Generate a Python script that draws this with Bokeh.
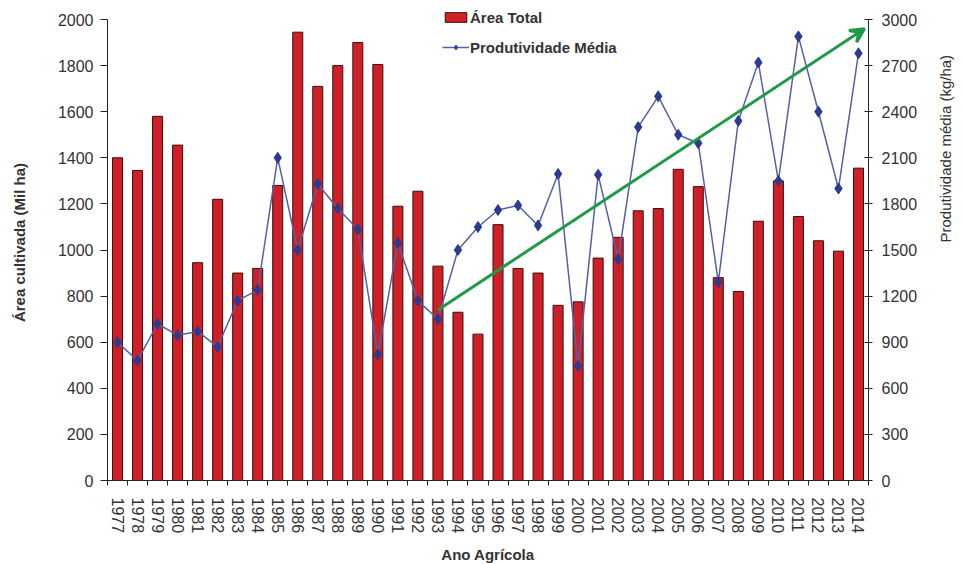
import math
from bokeh.plotting import figure
from bokeh.models import (Range1d, LinearAxis, FixedTicker, Legend, LegendItem,
                          Arrow, VeeHead, ColumnDataSource)
from bokeh.embed import file_html
from bokeh.resources import INLINE

years = list(range(1977, 2015))
area_total = [1400, 1345, 1580, 1455, 945, 1220, 900, 920, 1280, 1945,
              1710, 1800, 1900, 1805, 1190, 1255, 930, 730, 635, 1110,
              920, 900, 760, 775, 965, 1055, 1170, 1180, 1350, 1275,
              880, 820, 1125, 1300, 1145, 1040, 995, 1355]
produtividade = [900, 780, 1020, 945, 970, 870, 1170, 1240, 2100, 1500,
                 1930, 1770, 1635, 820, 1545, 1170, 1050, 1500, 1650, 1760,
                 1790, 1660, 1995, 745, 1990, 1440, 2300, 2500, 2250, 2195,
                 1290, 2340, 2720, 1950, 2890, 2400, 1900, 2780]
trend_years = [1993, 2014.3]
trend_values = [1110, 2940]

left_max = 2000
right_max = 3000
left_ticks = list(range(0, left_max + 1, 200))
right_ticks = list(range(0, right_max + 1, 300))

FONT = "Liberation Sans"

# frame extends 15px above the top tick so the legend can sit inside it
AXIS_PX = 461
FRAME_PX = 476
headroom = FRAME_PX / AXIS_PX

src = ColumnDataSource(dict(year=years, area=area_total, prod=produtividade))

p = figure(frame_width=761, frame_height=FRAME_PX, output_backend="svg", toolbar_location=None,
           x_range=Range1d(years[0] - 0.5, years[-1] + 0.5),
           y_range=Range1d(0, left_max * headroom),
           min_border_left=107, min_border_right=96, min_border_top=4, min_border_bottom=83,
           background_fill_color="white", border_fill_color="white")
p.outline_line_color = None
p.xgrid.visible = False
p.ygrid.visible = False
p.extra_y_ranges = {"right": Range1d(0, right_max * headroom)}

bars = p.vbar(x="year", top="area", width=0.5, source=src,
              fill_color="#cf2027", line_color="#3a0d0d", line_width=1)
line = p.line(x="year", y="prod", source=src, y_range_name="right",
              line_color="#5560a8", line_width=1.5)
pts = p.scatter(x="year", y="prod", source=src, y_range_name="right", marker="diamond",
                size=11, fill_color="#2c3a8f", line_color="#2c3a8f")

p.add_layout(Arrow(end=VeeHead(size=14, fill_color="#1f9a48", line_color="#1f9a48", line_width=3),
                   x_start=trend_years[0], y_start=trend_values[0],
                   x_end=trend_years[1], y_end=trend_values[1],
                   y_range_name="right", line_color="#1f9a48", line_width=3))

# x axis
xa = p.xaxis[0]
xa.ticker = FixedTicker(ticks=years, minor_ticks=[y - 0.5 for y in years] + [years[-1] + 0.5])
xa.major_label_overrides = {y: str(y) for y in years}
xa.major_tick_out = 0
xa.major_tick_in = 0
xa.minor_tick_out = 5
xa.minor_tick_in = 0
xa.minor_tick_line_color = "#222222"
xa.major_label_orientation = -math.pi / 2
xa.major_label_standoff = 12
xa.axis_label = "Ano Agrícola"
xa.axis_label_standoff = 10

# left axis
ya = p.yaxis[0]
ya.ticker = FixedTicker(ticks=left_ticks)
ya.bounds = (0, left_max)
ya.major_tick_out = 7
ya.major_tick_in = 0
ya.minor_tick_line_color = None
ya.major_label_standoff = 7
ya.axis_label = "Área cultivada (Mil ha)"
ya.axis_label_standoff = 27

# right axis
ra = LinearAxis(y_range_name="right", ticker=FixedTicker(ticks=right_ticks), bounds=(0, right_max))
ra.major_tick_out = 4
ra.major_tick_in = 4
ra.minor_tick_line_color = None
ra.major_label_standoff = 9
ra.axis_label = "Produtividade média (kg/ha)"
ra.axis_label_standoff = 25
if "axis_label_orientation" in ra.properties():
    ra.axis_label_orientation = math.pi / 2
p.add_layout(ra, "right")

for ax in [xa, ya, ra]:
    ax.axis_line_color = "#222222"
    ax.major_tick_line_color = None if ax is xa else "#222222"
    ax.major_label_text_font = FONT
    ax.major_label_text_font_size = "16px"
    ax.major_label_text_color = "#333333"
    ax.axis_label_text_font = FONT
    ax.axis_label_text_font_size = "15px"
    ax.axis_label_text_font_style = "bold"
    ax.axis_label_text_color = "#333333"
ra.axis_label_text_font_style = "normal"

legend = Legend(items=[LegendItem(label="Área Total", renderers=[bars]),
                       LegendItem(label="Produtividade Média", renderers=[line, pts])],
                location=(335, 423), orientation="vertical",
                glyph_width=27, glyph_height=12, label_standoff=1, spacing=10,
                label_height=20, padding=0, margin=0,
                border_line_color=None, background_fill_alpha=0,
                label_text_font=FONT, label_text_font_size="15px",
                label_text_font_style="bold", label_text_color="#333333")
p.add_layout(legend, "center")

open("out.html", "w").write(file_html(p, INLINE))
